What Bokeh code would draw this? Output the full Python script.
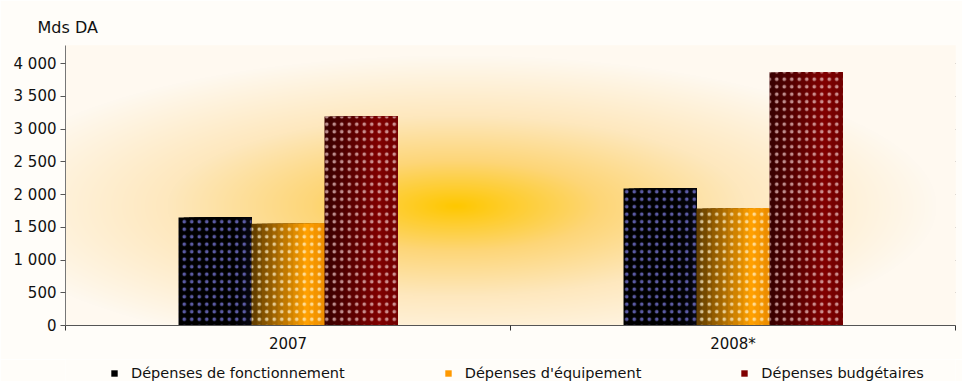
import numpy as np
from bokeh.plotting import figure
from bokeh.layouts import column
from bokeh.models import FixedTicker, Range1d, Legend, LegendItem
from bokeh.embed import file_html
from bokeh.resources import INLINE

categories = ["2007", "2008*"]
fonctionnement = [1650, 2090]
equipement = [1555, 1785]
budgetaires = [3190, 3865]
y_ticks = [0, 500, 1000, 1500, 2000, 2500, 3000, 3500, 4000]
series_names = ["Dépenses de fonctionnement", "Dépenses d'équipement", "Dépenses budgétaires"]

FONT = "DejaVu Sans"
FS = "15px"
W = 962
H_MAIN, H_LEG = 359, 22
LEFT, RIGHT, TOP, BOTTOM = 65, 7, 45, 34
YMAX = 4275
BG = "#fffdf9"

p = figure(width=W, height=H_MAIN, output_backend="svg", toolbar_location=None,
           x_range=Range1d(0, 2), y_range=Range1d(0, YMAX),
           min_border_left=LEFT, min_border_right=RIGHT,
           min_border_top=TOP, min_border_bottom=BOTTOM,
           title="Mds DA")
p.border_fill_color = BG
p.background_fill_color = "#fff8ec"
p.outline_line_color = None
p.title.text_font = FONT
p.title.text_font_size = "16px"
p.title.text_font_style = "normal"
p.title.text_color = "#111111"
p.title.align = "left"
p.title.offset = -28
p.title.standoff = 18

# background radial gradient (style only)
fw, fh = W - LEFT - RIGHT, H_MAIN - TOP - BOTTOM
xs = np.arange(fw)[None, :]
ys = np.arange(fh)[::-1][:, None]
cx, cy = 455 - LEFT, 205 - TOP
t = np.sqrt(((xs - cx) / 480.0) ** 2 + ((ys - cy) / 150.0) ** 2)
t = np.clip(t, 0, 1)
stops_t = [0.0, 0.3, 0.6, 1.0]
stops_c = [(255, 200, 0), (253, 214, 120), (254, 232, 190), (255, 249, 240)]
img = np.zeros((fh, fw), dtype=np.uint32)
view = img.view(dtype=np.uint8).reshape((fh, fw, 4))
for k in range(3):
    view[:, :, k] = np.interp(t, stops_t, [c[k] for c in stops_c]).astype(np.uint8)
view[:, :, 3] = 255
p.image_rgba(image=[img], x=0, y=0, dw=2, dh=YMAX)

# bars: horizontal shading via overlapping strips, then a dotted overlay
bw = 0.164
grads = [
    [(0, 0, 0), (0, 0, 0), (8, 8, 18)],
    [(95, 60, 0), (255, 160, 0), (235, 140, 0)],
    [(55, 0, 0), (128, 0, 0), (112, 0, 0)],
]
dot_colors = ["#8080e8", "#fff4d0", "#f0c8c8"]
legend_colors = ["#000000", "#ff9900", "#800000"]
NS = 14
for k, vals in enumerate([fonctionnement, equipement, budgetaires]):
    centers = [i + 0.5 + (k - 1) * bw for i in range(len(categories))]
    g = grads[k]
    for j in range(NS):
        f = (j + 0.5) / NS
        if f < 0.75:
            a, b, u = g[0], g[1], f / 0.75
        else:
            a, b, u = g[1], g[2], (f - 0.75) / 0.25
        col = "#%02x%02x%02x" % tuple(int(a[m] + (b[m] - a[m]) * u) for m in range(3))
        lefts = [c - bw / 2 + j * bw / NS for c in centers]
        rights = [c + bw / 2 for c in centers]
        p.quad(left=lefts, right=rights, bottom=0, top=vals, fill_color=col, line_color=None)
    p.vbar(x=centers, top=vals, width=bw, fill_alpha=0, line_color=None,
           hatch_pattern="dot", hatch_color=dot_colors[k], hatch_alpha=0.7,
           hatch_scale=7.5, hatch_weight=1.2)

p.ygrid.grid_line_color = "#222222"
p.ygrid.grid_line_alpha = 0.8
p.ygrid.grid_line_dash = "7 8"
p.ygrid.ticker = FixedTicker(ticks=y_ticks)
p.xgrid.grid_line_color = None

p.yaxis.ticker = FixedTicker(ticks=y_ticks)
p.yaxis.major_label_overrides = {v: f"{v:,}".replace(",", " ") for v in y_ticks}
p.yaxis.major_label_text_font = FONT
p.yaxis.major_label_text_font_size = FS
p.yaxis.major_label_text_color = "#111111"
p.yaxis.axis_line_color = "#777777"
p.yaxis.major_tick_line_color = "#555555"
p.yaxis.major_tick_out = 5
p.yaxis.major_tick_in = 0
p.yaxis.minor_tick_line_color = None
p.yaxis.major_label_standoff = 4

p.xaxis.ticker = FixedTicker(ticks=[i + 0.5 for i in range(len(categories))],
                             minor_ticks=list(range(len(categories) + 1)))
p.xaxis.major_label_overrides = {i + 0.5: c for i, c in enumerate(categories)}
p.xaxis.major_label_text_font = FONT
p.xaxis.major_label_text_font_size = FS
p.xaxis.major_label_text_color = "#111111"
p.xaxis.major_tick_line_color = None
p.xaxis.axis_line_color = "#555555"
p.xaxis.minor_tick_line_color = "#333333"
p.xaxis.minor_tick_out = 5
p.xaxis.minor_tick_in = 0
p.xaxis.major_label_standoff = 3

# legend strip below the chart (its frame is aligned with the chart's frame)
q = figure(width=W, height=H_LEG, output_backend="svg", toolbar_location=None,
           x_range=Range1d(0, 1), y_range=Range1d(0, 1),
           x_axis_location=None, y_axis_location=None,
           min_border_left=0, min_border_right=0, min_border_top=0, min_border_bottom=0)
q.grid.visible = False
q.outline_line_color = None
q.border_fill_color = BG
q.background_fill_color = BG
items = []
for k in range(3):
    r = q.quad(left=[-3], right=[-2], bottom=[-3], top=[-2],
               fill_color=legend_colors[k], line_color=None)
    items.append(LegendItem(label=series_names[k], renderers=[r]))
legend = Legend(items=items, orientation="horizontal", location=(45, 0))
legend.label_text_font = FONT
legend.label_text_font_size = "14.5px"
legend.label_text_color = "#111111"
legend.glyph_width = 8
legend.glyph_height = 8
legend.label_standoff = 13
legend.spacing = 99
legend.padding = 2
legend.margin = 0
legend.border_line_color = None
legend.background_fill_alpha = 0
q.add_layout(legend)

layout = column(p, q, spacing=0)
open("out.html", "w").write(file_html(layout, INLINE))
